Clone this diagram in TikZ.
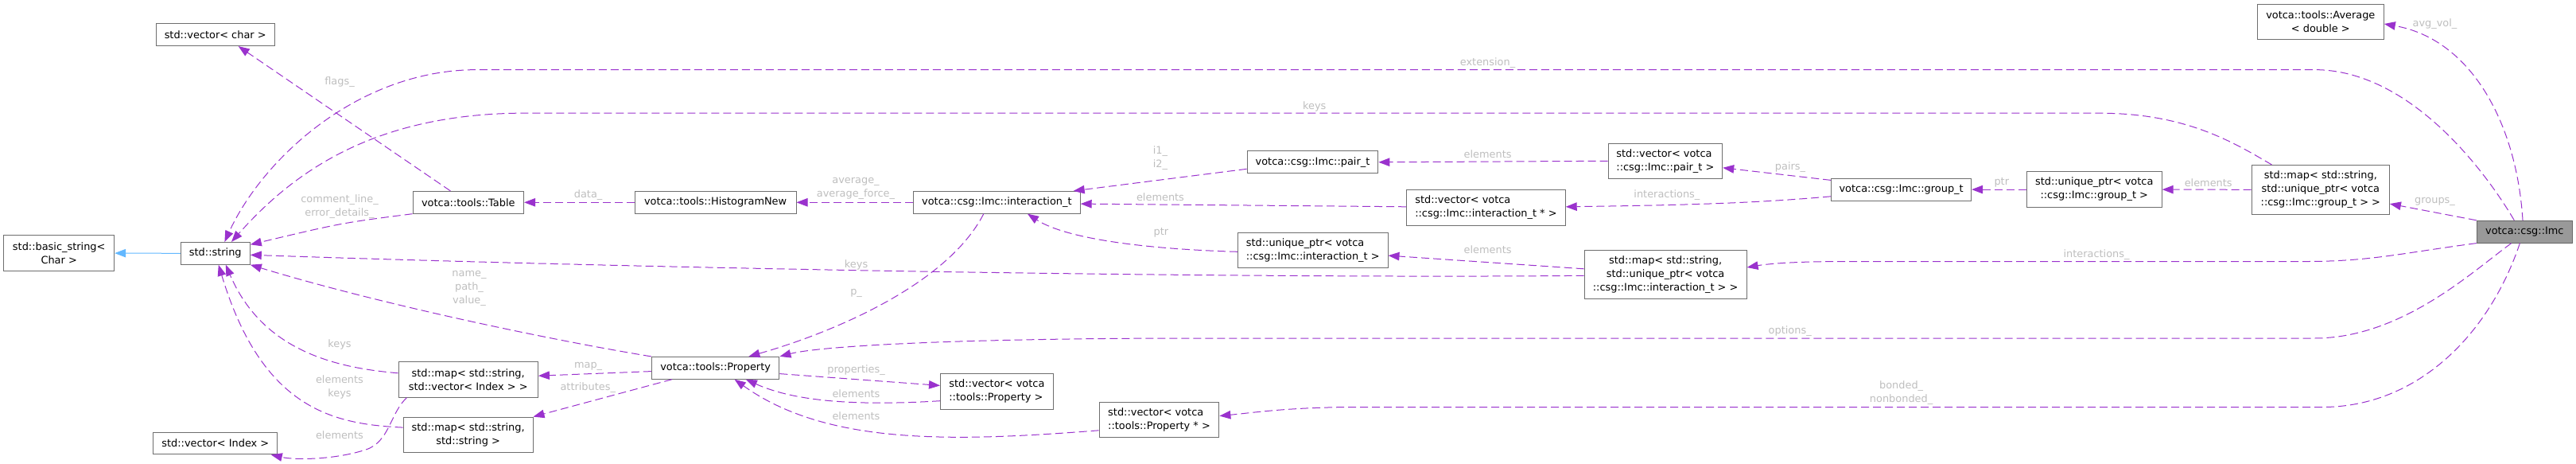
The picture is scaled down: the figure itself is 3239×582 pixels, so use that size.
\documentclass[tikz,border=0pt]{standalone}
\usepackage{fontspec}
\setmainfont{DejaVu Sans}
\usetikzlibrary{arrows.meta}
\definecolor{edgec}{HTML}{9A32CD}
\definecolor{inhc}{HTML}{63B8FF}
\definecolor{lblc}{HTML}{BEBEBE}
\definecolor{boxc}{HTML}{6E6E6E}
\definecolor{imcdraw}{HTML}{666666}
\definecolor{imcfill}{HTML}{999999}
\newcommand{\dfont}{\fontsize{12.9}{17}\selectfont}
\begin{document}
\begin{tikzpicture}[x=1pt,y=-1pt,
  box/.style={draw=boxc, line width=1pt, fill=white, inner sep=0pt, font=\dfont, text=black, align=center},
  rel/.style={draw=edgec, line width=1pt, dash pattern=on 10pt off 5pt, -{Triangle[length=14pt,width=10.5pt]}},
  inh/.style={draw=inhc, line width=1pt, -{Triangle[length=14pt,width=10.5pt]}},
  lbl/.style={text=lblc, font=\dfont, inner sep=0pt, align=center}]
\useasboundingbox (0,0) rectangle (3239,582);

% ---------- nodes ----------
\node[box, minimum width=149pt, minimum height=28pt] (vchar) at (270.7,43.6) {std::vector< char >};
\node[box, minimum width=139pt, minimum height=44.6pt] (bstr) at (74.2,318.1) {std::basic\_string<\\Char >};
\node[box, minimum width=87pt, minimum height=27.8pt] (str) at (270.8,318.3) {std::string};
\node[box, minimum width=156pt, minimum height=27.8pt] (vidx) at (270.8,557) {std::vector< Index >};
\node[box, minimum width=139.6pt, minimum height=27.8pt] (table) at (588.8,254.3) {votca::tools::Table};
\node[box, minimum width=175.4pt, minimum height=44.6pt] (mapvidx) at (588.7,476.8) {std::map< std::string,\\std::vector< Index > >};
\node[box, minimum width=162.8pt, minimum height=44.6pt] (mapss) at (588.6,546.4) {std::map< std::string,\\std::string >};
\node[box, minimum width=202.8pt, minimum height=27.8pt] (hist) at (899.6,254.3) {votca::tools::HistogramNew};
\node[box, minimum width=160.7pt, minimum height=27.8pt] (prop) at (899.6,462.3) {votca::tools::Property};
\node[box, minimum width=209.6pt, minimum height=27.8pt] (inter) at (1253.4,254.3) {votca::csg::Imc::interaction\_t};
\node[box, align=left, minimum width=141.8pt, minimum height=44.6pt] (vprop) at (1253.4,491.7) {std::vector< votca\\::tools::Property >};
\node[box, align=left, minimum width=150.8pt, minimum height=44.6pt] (vpropp) at (1457.5,527.5) {std::vector< votca\\::tools::Property * >};
\node[box, minimum width=164.7pt, minimum height=27.8pt] (pair) at (1650.5,203.8) {votca::csg::Imc::pair\_t};
\node[box, align=left, minimum width=188.6pt, minimum height=44.6pt] (uinter) at (1650.7,314.4) {std::unique\_ptr< votca\\::csg::Imc::interaction\_t >};
\node[box, align=left, minimum width=143.6pt, minimum height=44.6pt] (vpair) at (2093.9,202.3) {std::vector< votca\\::csg::Imc::pair\_t >};
\node[box, align=left, minimum width=199.6pt, minimum height=44.6pt] (vinterp) at (1868.4,261) {std::vector< votca\\::csg::Imc::interaction\_t * >};
\node[box, minimum width=204pt, minimum height=61.7pt] (mapinter) at (2094.1,344.9) {std::map< std::string,\\std::unique\_ptr< votca\\::csg::Imc::interaction\_t > >};
\node[box, minimum width=176pt, minimum height=27.8pt] (group) at (2390.6,238.1) {votca::csg::Imc::group\_t};
\node[box, minimum width=170pt, minimum height=44.9pt] (ugroup) at (2633.2,238.1) {std::unique\_ptr< votca\\::csg::Imc::group\_t >};
\node[box, minimum width=173.2pt, minimum height=61.6pt] (mapgroup) at (2917.8,238.3) {std::map< std::string,\\std::unique\_ptr< votca\\::csg::Imc::group\_t > >};
\node[box, minimum width=159pt, minimum height=44.5pt] (avg) at (2917.8,27.5) {votca::tools::Average\\< double >};
\node[box, draw=imcdraw, fill=imcfill, minimum width=120.2pt, minimum height=27.8pt] (imc) at (3174.3,291.2) {votca::csg::Imc};

% ---------- connectors ----------
\draw[inh] (str.west) -- (bstr.east);

% extension_
\draw[rel] ([xshift=-13pt]imc.north) .. controls (3125,215) and (3030,87.6) .. (2910,87.6)
  -- (600,87.6) .. controls (450,87.6) and (330,200) .. ([xshift=11.6pt]str.north);
% keys (map group -> string)
\draw[rel] ([xshift=-61.3pt]mapgroup.north) .. controls (2810,180) and (2750,142.2) .. (2640,142.2)
  -- (650,142.2) .. controls (470,145) and (370,215) .. ([xshift=20.2pt]str.north);
% flags_
\draw[rel] ([xshift=-22.4pt]table.north) -- ([xshift=29pt]vchar.south);
% comment_line_ error_details_
\draw[rel] (table.south west) .. controls (430,280) .. ([yshift=11pt]str.east);
% keys (map interaction -> string)
\draw[rel] ([yshift=-1.4pt]mapinter.west) .. controls (1600,350) and (900,340) .. ([yshift=-2pt]str.east);
% name_ path_ value_
\draw[rel] (prop.north west) .. controls (680,425) and (470,380) .. (str.south east);
% keys (map vector index -> string)
\draw[rel] ([yshift=8pt]mapvidx.west) .. controls (420,462) and (330,440) .. ([xshift=13pt]str.south);
% elements keys (map string string -> string)
\draw[rel] ([yshift=9.3pt]mapss.west) .. controls (420,533) and (330,515) .. ([xshift=4pt]str.south);
% elements (map vector index -> vector index)
\draw[rel] ([xshift=-77.3pt]mapvidx.south) .. controls (490,520) and (490,555) .. (460,565)
  .. controls (420,578) and (370,578) .. ([xshift=70pt]vidx.south);
% data_
\draw[rel] (hist.west) -- (table.east);
% average_ average_force_
\draw[rel] (inter.west) -- (hist.east);
% p_
\draw[rel] ([xshift=-16.6pt]inter.south) .. controls (1190,360) and (1040,420) .. ([xshift=41.8pt]prop.north);
% map_
\draw[rel] ([yshift=-4.3pt]prop.west) -- ([yshift=4.6pt]mapvidx.east);
% attributes_
\draw[rel] ([xshift=-54.6pt]prop.south) -- (mapss.north east);
% properties_
\draw[rel] ([yshift=-7.3pt]prop.east) -- ([yshift=7.3pt]vprop.west);
% elements (vector property -> property)
\draw[rel] ([yshift=-12pt]vprop.west) .. controls (1080,510) and (1000,505) .. ([xshift=38.3pt]prop.south);
% elements (vector property* -> property)
\draw[rel] ([yshift=-13.3pt]vpropp.west) .. controls (1200,555) and (1040,560) .. ([xshift=24pt]prop.south);
% i1_ i2_
\draw[rel] ([yshift=-8.5pt]pair.west) -- ([xshift=-9pt]inter.north east);
% elements (vector interaction* -> interaction)
\draw[rel] ([yshift=1.2pt]vinterp.west) -- ([yshift=-1.8pt]inter.east);
% ptr (unique interaction -> interaction)
\draw[rel] ([yshift=-1.9pt]uinter.west) .. controls (1440,313) and (1340,300) .. ([xshift=38.6pt]inter.south);
% elements (vector pair -> pair)
\draw[rel] (vpair.west) -- (pair.east);
% elements (map interaction -> unique interaction)
\draw[rel] ([yshift=7.1pt]mapinter.west) -- ([yshift=-6.7pt]uinter.east);
% interactions_ (group -> vector interaction*)
\draw[rel] ([yshift=-8.7pt]group.west) .. controls (2200,256) and (2100,258) .. ([yshift=1.2pt]vinterp.east);
% pairs_
\draw[rel] ([yshift=11.7pt]group.west) -- ([yshift=-8.5pt]vpair.east);
% ptr (unique group -> group)
\draw[rel] (ugroup.west) -- (group.east);
% elements (map group -> unique group)
\draw[rel] (mapgroup.west) -- (ugroup.east);
% groups_
\draw[rel] (imc.north west) -- ([yshift=-17.8pt]mapgroup.east);
% avg_vol_
\draw[rel] ([xshift=-2.3pt]imc.north) .. controls (3165,160) and (3110,50) .. ([yshift=-2.5pt]avg.east);
% interactions_ (imc -> map interaction)
\draw[rel] (imc.south west) .. controls (3020,318) and (2980,328.5) .. (2900,328.5)
  -- (2320,328.5) .. controls (2250,328.5) and (2220,332) .. ([yshift=8.9pt]mapinter.east);
% options_
\draw[rel] ([xshift=-16.6pt]imc.south) .. controls (3110,340) and (3020,425) .. (2910,425)
  -- (1500,425) .. controls (1200,425) and (1030,435) .. (prop.north east);
% bonded_ nonbonded_
\draw[rel] ([xshift=-5.9pt]imc.south) .. controls (3130,420) and (3040,511.5) .. (2920,511.5)
  -- (1700,511.5) .. controls (1620,512) and (1580,518) .. ([yshift=4.9pt]vpropp.east);

% ---------- labels ----------
\node[lbl] (l1) at (1870.5,78.7) {extension\_};
\node[lbl] (l2) at (1652.7,133.6) {keys};
\node[lbl] (l3) at (3061.5,29.7) {avg\_vol\_};
\node[lbl] (l4) at (3061.5,253.5) {groups\_};
\node[lbl] (l5) at (2776.7,229.4) {elements};
\node[lbl] (l6) at (2516.8,229.4) {ptr};
\node[lbl] (l7) at (2251,209.7) {pairs\_};
\node[lbl] (l8) at (2095.9,245.4) {interactions\_};
\node[lbl] (l9) at (2636,320) {interactions\_};
\node[lbl] (l10) at (2250.7,416.5) {options\_};
\node[lbl] (l11) at (2390.6,493.7) {bonded\_\\nonbonded\_};
\node[lbl] (l12) at (1870.6,193.8) {elements};
\node[lbl] (l13) at (1870.6,313.7) {elements};
\node[lbl, align=left] (l14) at (1459,199) {i1\_\\i2\_};
\node[lbl] (l15) at (1459,247.6) {elements};
\node[lbl] (l16) at (1460,292.1) {ptr};
\node[lbl] (l17) at (1076,237.2) {average\_\\average\_force\_};
\node[lbl] (l18) at (1076.6,333) {keys};
\node[lbl] (l19) at (1076.6,368.6) {p\_};
\node[lbl] (l20) at (1076.6,464.7) {properties\_};
\node[lbl] (l21) at (1076.5,494.4) {elements};
\node[lbl] (l22) at (1076.5,522.3) {elements};
\node[lbl] (l23) at (739.6,245.4) {data\_};
\node[lbl] (l24) at (739.6,460.3) {map\_};
\node[lbl] (l25) at (739.3,487.4) {attributes\_};
\node[lbl] (l26) at (590,362) {name\_\\path\_\\value\_};
\node[lbl] (l27) at (427,102.8) {flags\_};
\node[lbl] (l28) at (427,259.3) {comment\_line\_\\error\_details\_};
\node[lbl] (l29) at (427,433.2) {keys};
\node[lbl] (l30) at (427,486.8) {elements\\keys};
\node[lbl] (l31) at (427,546.4) {elements};
\end{tikzpicture}
\end{document}
